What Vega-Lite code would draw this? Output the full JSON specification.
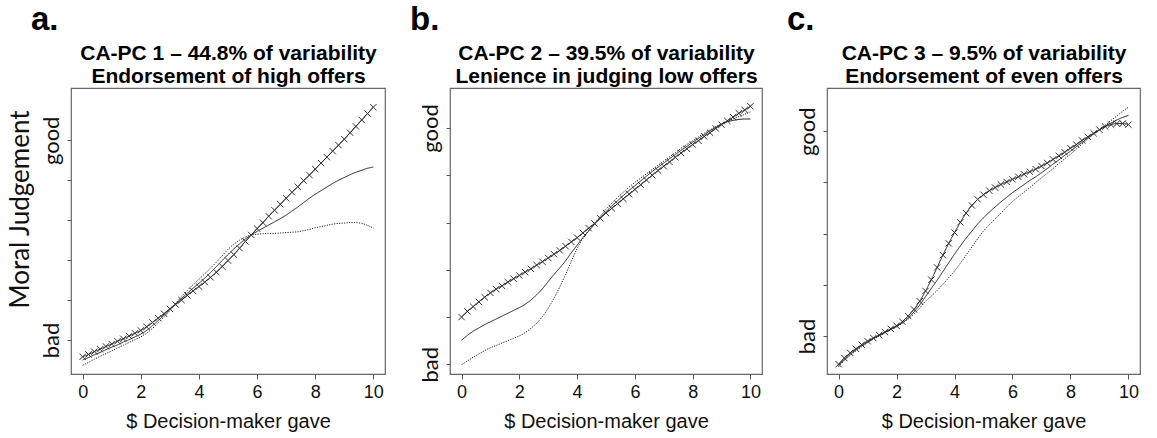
{
"$schema": "https://vega.github.io/schema/vega-lite/v6.json",
"padding": {"left": 6, "top": 3, "right": 10, "bottom": 5},
"background": "white",
"config": {"view": {"stroke": "#666", "strokeWidth": 1.2}, "axis": {"grid": false, "domain": false}, "font": "Liberation Sans"},
"spacing": 65,
"bounds": "flush",
"datasets": {
"a": [
{"x":0,"c":0.58,"s":0.50,"d":0.37},{"x":0.2,"c":0.64,"s":0.56,"d":0.44},{"x":0.4,"c":0.71,"s":0.63,"d":0.52},{"x":0.6,"c":0.77,"s":0.69,"d":0.59},{"x":0.8,"c":0.84,"s":0.76,"d":0.66},
{"x":1.0,"c":0.90,"s":0.82,"d":0.73},{"x":1.2,"c":0.97,"s":0.88,"d":0.80},{"x":1.4,"c":1.03,"s":0.95,"d":0.87},{"x":1.6,"c":1.10,"s":1.01,"d":0.94},{"x":1.8,"c":1.17,"s":1.08,"d":1.01},
{"x":2.0,"c":1.24,"s":1.15,"d":1.08},{"x":2.2,"c":1.33,"s":1.24,"d":1.17},{"x":2.4,"c":1.44,"s":1.36,"d":1.29},{"x":2.6,"c":1.55,"s":1.49,"d":1.43},{"x":2.8,"c":1.66,"s":1.62,"d":1.58},
{"x":3.0,"c":1.78,"s":1.76,"d":1.74},{"x":3.2,"c":1.89,"s":1.91,"d":1.92},{"x":3.4,"c":2.00,"s":2.04,"d":2.08},{"x":3.6,"c":2.12,"s":2.17,"d":2.24},{"x":3.8,"c":2.23,"s":2.30,"d":2.39},
{"x":4.0,"c":2.34,"s":2.42,"d":2.52},{"x":4.2,"c":2.45,"s":2.55,"d":2.66},{"x":4.4,"c":2.57,"s":2.69,"d":2.80},{"x":4.6,"c":2.70,"s":2.84,"d":2.95},{"x":4.8,"c":2.84,"s":2.99,"d":3.11},
{"x":5.0,"c":2.99,"s":3.14,"d":3.27},{"x":5.2,"c":3.14,"s":3.28,"d":3.40},{"x":5.4,"c":3.30,"s":3.41,"d":3.50},{"x":5.6,"c":3.47,"s":3.53,"d":3.58},{"x":5.8,"c":3.63,"s":3.63,"d":3.63},
{"x":6.0,"c":3.79,"s":3.72,"d":3.65},{"x":6.2,"c":3.94,"s":3.80,"d":3.66},{"x":6.4,"c":4.10,"s":3.88,"d":3.67},{"x":6.6,"c":4.25,"s":3.96,"d":3.67},{"x":6.8,"c":4.40,"s":4.04,"d":3.68},
{"x":7.0,"c":4.55,"s":4.13,"d":3.69},{"x":7.2,"c":4.70,"s":4.23,"d":3.70},{"x":7.4,"c":4.84,"s":4.33,"d":3.71},{"x":7.6,"c":4.99,"s":4.44,"d":3.74},{"x":7.8,"c":5.13,"s":4.55,"d":3.77},
{"x":8.0,"c":5.28,"s":4.65,"d":3.81},{"x":8.2,"c":5.43,"s":4.74,"d":3.84},{"x":8.4,"c":5.58,"s":4.83,"d":3.87},{"x":8.6,"c":5.73,"s":4.92,"d":3.90},{"x":8.8,"c":5.88,"s":5.00,"d":3.92},
{"x":9.0,"c":6.03,"s":5.07,"d":3.93},{"x":9.2,"c":6.19,"s":5.14,"d":3.94},{"x":9.4,"c":6.35,"s":5.20,"d":3.94},{"x":9.6,"c":6.51,"s":5.25,"d":3.92},{"x":9.8,"c":6.67,"s":5.30,"d":3.87},
{"x":10.0,"c":6.83,"s":5.33,"d":3.80}
],
"b": [
{"x":0,"c":2.00,"s":1.51,"d":0.99},{"x":0.2,"c":2.12,"s":1.61,"d":1.07},{"x":0.4,"c":2.22,"s":1.70,"d":1.15},{"x":0.6,"c":2.32,"s":1.77,"d":1.22},{"x":0.8,"c":2.42,"s":1.84,"d":1.29},
{"x":1.0,"c":2.51,"s":1.90,"d":1.35},{"x":1.2,"c":2.59,"s":1.96,"d":1.40},{"x":1.4,"c":2.66,"s":2.02,"d":1.45},{"x":1.6,"c":2.74,"s":2.08,"d":1.50},{"x":1.8,"c":2.81,"s":2.14,"d":1.55},
{"x":2.0,"c":2.88,"s":2.20,"d":1.60},{"x":2.2,"c":2.95,"s":2.27,"d":1.67},{"x":2.4,"c":3.02,"s":2.36,"d":1.76},{"x":2.6,"c":3.10,"s":2.47,"d":1.87},{"x":2.8,"c":3.17,"s":2.60,"d":2.01},
{"x":3.0,"c":3.25,"s":2.75,"d":2.19},{"x":3.2,"c":3.33,"s":2.90,"d":2.40},{"x":3.4,"c":3.41,"s":3.04,"d":2.64},{"x":3.6,"c":3.50,"s":3.19,"d":2.90},{"x":3.8,"c":3.59,"s":3.36,"d":3.18},
{"x":4.0,"c":3.68,"s":3.52,"d":3.45},{"x":4.2,"c":3.78,"s":3.68,"d":3.66},{"x":4.4,"c":3.88,"s":3.82,"d":3.83},{"x":4.6,"c":3.98,"s":3.96,"d":3.98},{"x":4.8,"c":4.09,"s":4.10,"d":4.13},
{"x":5.0,"c":4.20,"s":4.23,"d":4.28},{"x":5.2,"c":4.30,"s":4.35,"d":4.41},{"x":5.4,"c":4.40,"s":4.46,"d":4.53},{"x":5.6,"c":4.50,"s":4.57,"d":4.64},{"x":5.8,"c":4.60,"s":4.68,"d":4.75},
{"x":6.0,"c":4.70,"s":4.78,"d":4.85},{"x":6.2,"c":4.80,"s":4.88,"d":4.94},{"x":6.4,"c":4.90,"s":4.98,"d":5.03},{"x":6.6,"c":5.00,"s":5.08,"d":5.12},{"x":6.8,"c":5.10,"s":5.17,"d":5.21},
{"x":7.0,"c":5.19,"s":5.26,"d":5.30},{"x":7.2,"c":5.28,"s":5.35,"d":5.39},{"x":7.4,"c":5.38,"s":5.44,"d":5.48},{"x":7.6,"c":5.47,"s":5.53,"d":5.57},{"x":7.8,"c":5.56,"s":5.61,"d":5.65},
{"x":8.0,"c":5.65,"s":5.70,"d":5.73},{"x":8.2,"c":5.73,"s":5.78,"d":5.81},{"x":8.4,"c":5.82,"s":5.86,"d":5.89},{"x":8.6,"c":5.90,"s":5.94,"d":5.96},{"x":8.8,"c":5.99,"s":6.01,"d":6.03},
{"x":9.0,"c":6.07,"s":6.08,"d":6.09},{"x":9.2,"c":6.15,"s":6.13,"d":6.14},{"x":9.4,"c":6.23,"s":6.16,"d":6.19},{"x":9.6,"c":6.31,"s":6.18,"d":6.24},{"x":9.8,"c":6.38,"s":6.19,"d":6.29},
{"x":10.0,"c":6.46,"s":6.19,"d":6.34}
],
"c": [
{"x":0,"c":0.45,"s":0.42,"d":0.40},{"x":0.2,"c":0.57,"s":0.54,"d":0.52},{"x":0.4,"c":0.67,"s":0.64,"d":0.62},{"x":0.6,"c":0.75,"s":0.73,"d":0.71},{"x":0.8,"c":0.83,"s":0.81,"d":0.79},
{"x":1.0,"c":0.90,"s":0.88,"d":0.87},{"x":1.2,"c":0.96,"s":0.95,"d":0.94},{"x":1.4,"c":1.02,"s":1.01,"d":1.00},{"x":1.6,"c":1.08,"s":1.07,"d":1.06},{"x":1.8,"c":1.14,"s":1.13,"d":1.12},
{"x":2.0,"c":1.20,"s":1.19,"d":1.18},{"x":2.2,"c":1.28,"s":1.26,"d":1.25},{"x":2.4,"c":1.39,"s":1.35,"d":1.33},{"x":2.6,"c":1.52,"s":1.47,"d":1.43},{"x":2.8,"c":1.68,"s":1.61,"d":1.55},
{"x":3.0,"c":1.88,"s":1.77,"d":1.68},{"x":3.2,"c":2.10,"s":1.93,"d":1.78},{"x":3.4,"c":2.34,"s":2.09,"d":1.89},{"x":3.6,"c":2.58,"s":2.26,"d":2.01},{"x":3.8,"c":2.81,"s":2.43,"d":2.14},
{"x":4.0,"c":3.02,"s":2.60,"d":2.27},{"x":4.2,"c":3.22,"s":2.76,"d":2.42},{"x":4.4,"c":3.40,"s":2.91,"d":2.58},{"x":4.6,"c":3.55,"s":3.05,"d":2.74},{"x":4.8,"c":3.67,"s":3.19,"d":2.90},
{"x":5.0,"c":3.76,"s":3.31,"d":3.05},{"x":5.2,"c":3.84,"s":3.42,"d":3.17},{"x":5.4,"c":3.90,"s":3.52,"d":3.29},{"x":5.6,"c":3.96,"s":3.62,"d":3.40},{"x":5.8,"c":4.01,"s":3.71,"d":3.52},
{"x":6.0,"c":4.06,"s":3.80,"d":3.63},{"x":6.2,"c":4.11,"s":3.88,"d":3.72},{"x":6.4,"c":4.16,"s":3.96,"d":3.81},{"x":6.6,"c":4.21,"s":4.04,"d":3.90},{"x":6.8,"c":4.26,"s":4.11,"d":4.00},
{"x":7.0,"c":4.32,"s":4.19,"d":4.09},{"x":7.2,"c":4.38,"s":4.27,"d":4.18},{"x":7.4,"c":4.45,"s":4.36,"d":4.27},{"x":7.6,"c":4.52,"s":4.44,"d":4.37},{"x":7.8,"c":4.59,"s":4.53,"d":4.46},
{"x":8.0,"c":4.67,"s":4.61,"d":4.55},{"x":8.2,"c":4.74,"s":4.70,"d":4.65},{"x":8.4,"c":4.82,"s":4.78,"d":4.75},{"x":8.6,"c":4.89,"s":4.87,"d":4.85},{"x":8.8,"c":4.96,"s":4.95,"d":4.94},
{"x":9.0,"c":5.03,"s":5.03,"d":5.03},{"x":9.2,"c":5.09,"s":5.10,"d":5.12},{"x":9.4,"c":5.13,"s":5.16,"d":5.21},{"x":9.6,"c":5.15,"s":5.22,"d":5.30},{"x":9.8,"c":5.15,"s":5.27,"d":5.39},
{"x":10.0,"c":5.13,"s":5.31,"d":5.47}
]
},
"hconcat": [
{
"width": 314, "height": 286,
"data": {"name": "a"},
"transform": [{"fold": ["c", "s", "d"], "as": ["series", "v"]}],
"title": {"text": "a.", "anchor": "start", "frame": "group", "dx": -40, "offset": 5, "font": "Liberation Sans", "fontSize": 33, "fontWeight": "bold", "color": "#000"},
"encoding": {"y": {"field": "v", "type": "quantitative", "scale": {"domain": [0.15, 7.31], "nice": false, "zero": false},
  "axis": {"values": [1,2,3,4,5,6], "labelExpr": "datum.value == 1 ? 'bad' : datum.value == 6 ? 'good' : ''", "labelAngle": 270, "labelAlign": "center", "labelBaseline": "bottom", "labelFont": "Lato", "labelFontSize": 22, "labelColor": "#111", "labelPadding": 4, "labelOverlap": false, "labelFlush": false, "tickSize": 4, "tickColor": "#555",
  "title": "Moral Judgement", "titleFont": "Lato", "titleFontSize": 26, "titleFontWeight": "normal", "titleColor": "#111", "titleAngle": 270, "titleAlign": "center", "titleBaseline": "alphabetic", "titleX": -43, "titleY": 121}}},
"layer": [
{"mark": {"type": "line", "color": "#222", "strokeWidth": 1, "interpolate": "monotone"},
 "encoding": {"x": {"field": "x", "type": "quantitative", "scale": {"domain": [-0.4, 10.4], "nice": false, "zero": false},
   "axis": {"values": [0,2,4,6,8,10], "tickSize": 5, "tickColor": "#555", "labelFont": "Liberation Sans", "labelFontSize": 18, "labelColor": "#111", "labelPadding": 4, "labelFlush": false, "title": "$ Decision-maker gave", "titleFont": "Liberation Sans", "titleFontSize": 20, "titleFontWeight": "normal", "titleColor": "#111", "titlePadding": 10}},
   "detail": {"field": "series"},
   "strokeDash": {"field": "series", "type": "nominal", "scale": {"domain": ["c", "s", "d"], "range": [[1, 0], [1, 0], [1.2, 1.3]]}, "legend": null}}},
{"transform": [{"filter": "datum.series === 'c'"}],
 "mark": {"type": "point", "shape": "M-1,-1L1,1M-1,1L1,-1", "size": 40, "strokeWidth": 1, "color": "#333", "filled": false, "opacity": 1},
 "encoding": {"x": {"field": "x", "type": "quantitative", "scale": {"domain": [-0.4, 10.4], "nice": false, "zero": false},
   "axis": {"orient": "top", "ticks": false, "labels": false, "domain": false, "title": ["CA-PC 1 – 44.8% of variability", "Endorsement of high offers"], "titleFont": "Liberation Sans", "titleFontSize": 21, "titleFontWeight": "bold", "titleColor": "#000", "titleLineHeight": 23, "titlePadding": 2}}}}
],
"resolve": {"scale": {"x": "independent"}, "axis": {"x": "independent"}}
},
{
"width": 312, "height": 286,
"data": {"name": "b"},
"transform": [{"fold": ["c", "s", "d"], "as": ["series", "v"]}],
"title": {"text": "b.", "anchor": "start", "frame": "group", "dx": -40, "offset": 5, "font": "Liberation Sans", "fontSize": 33, "fontWeight": "bold", "color": "#000"},
"encoding": {"y": {"field": "v", "type": "quantitative", "scale": {"domain": [0.795, 6.846], "nice": false, "zero": false},
  "axis": {"values": [1,2,3,4,5,6], "labelExpr": "datum.value == 1 ? 'bad' : datum.value == 6 ? 'good' : ''", "labelAngle": 270, "labelAlign": "center", "labelBaseline": "bottom", "labelFont": "Lato", "labelFontSize": 22, "labelColor": "#111", "labelPadding": 4, "labelOverlap": false, "labelFlush": false, "tickSize": 4, "tickColor": "#555", "title": null}}},
"layer": [
{"mark": {"type": "line", "color": "#222", "strokeWidth": 1, "interpolate": "monotone"},
 "encoding": {"x": {"field": "x", "type": "quantitative", "scale": {"domain": [-0.4, 10.4], "nice": false, "zero": false},
   "axis": {"values": [0,2,4,6,8,10], "tickSize": 5, "tickColor": "#555", "labelFont": "Liberation Sans", "labelFontSize": 18, "labelColor": "#111", "labelPadding": 4, "labelFlush": false, "title": "$ Decision-maker gave", "titleFont": "Liberation Sans", "titleFontSize": 20, "titleFontWeight": "normal", "titleColor": "#111", "titlePadding": 10}},
   "detail": {"field": "series"},
   "strokeDash": {"field": "series", "type": "nominal", "scale": {"domain": ["c", "s", "d"], "range": [[1, 0], [1, 0], [1.2, 1.3]]}, "legend": null}}},
{"transform": [{"filter": "datum.series === 'c'"}],
 "mark": {"type": "point", "shape": "M-1,-1L1,1M-1,1L1,-1", "size": 40, "strokeWidth": 1, "color": "#333", "filled": false, "opacity": 1},
 "encoding": {"x": {"field": "x", "type": "quantitative", "scale": {"domain": [-0.4, 10.4], "nice": false, "zero": false},
   "axis": {"orient": "top", "ticks": false, "labels": false, "domain": false, "title": ["CA-PC 2 – 39.5% of variability", "Lenience in judging low offers"], "titleFont": "Liberation Sans", "titleFontSize": 21, "titleFontWeight": "bold", "titleColor": "#000", "titleLineHeight": 23, "titlePadding": 2}}}}
],
"resolve": {"scale": {"x": "independent"}, "axis": {"x": "independent"}}
},
{
"width": 313, "height": 286,
"data": {"name": "c"},
"transform": [{"fold": ["c", "s", "d"], "as": ["series", "v"]}],
"title": {"text": "c.", "anchor": "start", "frame": "group", "dx": -40, "offset": 5, "font": "Liberation Sans", "fontSize": 33, "fontWeight": "bold", "color": "#000"},
"encoding": {"y": {"field": "v", "type": "quantitative", "scale": {"domain": [0.258, 5.845], "nice": false, "zero": false},
  "axis": {"values": [1,2,3,4,5], "labelExpr": "datum.value == 1 ? 'bad' : datum.value == 5 ? 'good' : ''", "labelAngle": 270, "labelAlign": "center", "labelBaseline": "bottom", "labelFont": "Lato", "labelFontSize": 22, "labelColor": "#111", "labelPadding": 4, "labelOverlap": false, "labelFlush": false, "tickSize": 4, "tickColor": "#555", "title": null}}},
"layer": [
{"mark": {"type": "line", "color": "#222", "strokeWidth": 1, "interpolate": "monotone"},
 "encoding": {"x": {"field": "x", "type": "quantitative", "scale": {"domain": [-0.4, 10.4], "nice": false, "zero": false},
   "axis": {"values": [0,2,4,6,8,10], "tickSize": 5, "tickColor": "#555", "labelFont": "Liberation Sans", "labelFontSize": 18, "labelColor": "#111", "labelPadding": 4, "labelFlush": false, "title": "$ Decision-maker gave", "titleFont": "Liberation Sans", "titleFontSize": 20, "titleFontWeight": "normal", "titleColor": "#111", "titlePadding": 10}},
   "detail": {"field": "series"},
   "strokeDash": {"field": "series", "type": "nominal", "scale": {"domain": ["c", "s", "d"], "range": [[1, 0], [1, 0], [1.2, 1.3]]}, "legend": null}}},
{"transform": [{"filter": "datum.series === 'c'"}],
 "mark": {"type": "point", "shape": "M-1,-1L1,1M-1,1L1,-1", "size": 40, "strokeWidth": 1, "color": "#333", "filled": false, "opacity": 1},
 "encoding": {"x": {"field": "x", "type": "quantitative", "scale": {"domain": [-0.4, 10.4], "nice": false, "zero": false},
   "axis": {"orient": "top", "ticks": false, "labels": false, "domain": false, "title": ["CA-PC 3 – 9.5% of variability", "Endorsement of even offers"], "titleFont": "Liberation Sans", "titleFontSize": 21, "titleFontWeight": "bold", "titleColor": "#000", "titleLineHeight": 23, "titlePadding": 2}}}}
],
"resolve": {"scale": {"x": "independent"}, "axis": {"x": "independent"}}
}
]
}
